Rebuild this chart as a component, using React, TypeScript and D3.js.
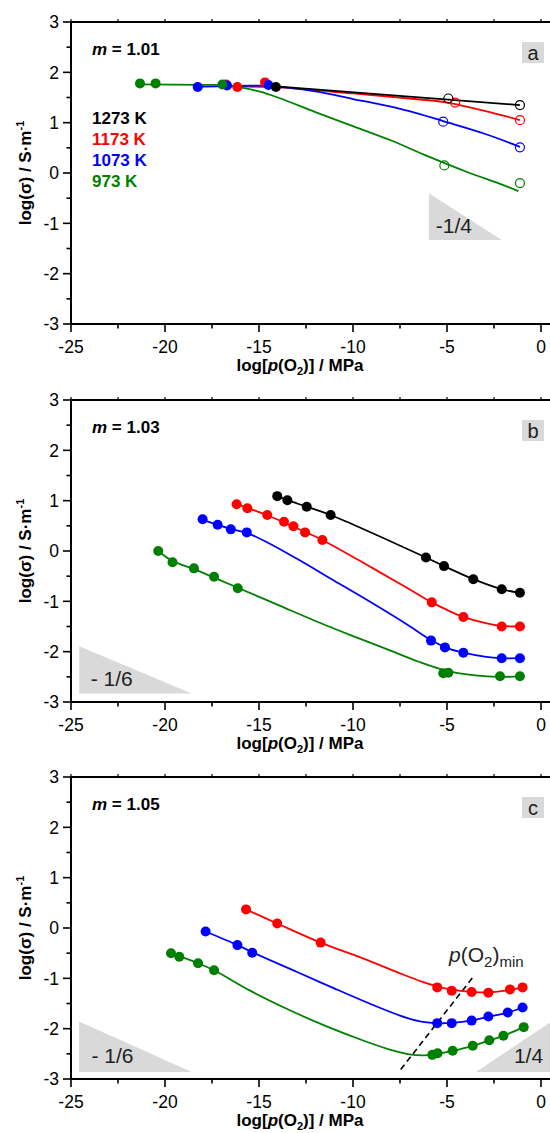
import React from "react";
import * as d3 from "d3";

type P = [number, number];

// ---------- Panel a (m = 1.01) ----------
const aBlackPts: P[] = [[-14.1, 1.71]];
const aBlackOpen: P[] = [[-4.93, 1.48], [-1.12, 1.35]];
const aBlackFit: P[] = [[-14.1, 1.72], [-1.12, 1.35]];
const aRedPts: P[] = [[-16.75, 1.76], [-16.15, 1.71], [-14.68, 1.8]];
const aRedOpen: P[] = [[-4.57, 1.4], [-1.12, 1.05]];
const aRedFit: P[] = [[-16.8, 1.72], [-14, 1.7], [-10, 1.58], [-7, 1.48], [-5, 1.4], [-3.5, 1.28], [-2, 1.14], [-1.12, 1.05]];
const aBluePts: P[] = [[-18.26, 1.71], [-16.7, 1.74], [-14.5, 1.75]];
const aBlueOpen: P[] = [[-5.2, 1.02], [-1.12, 0.51]];
const aBlueFit: P[] = [[-18.26, 1.71], [-16, 1.73], [-14.5, 1.73], [-12, 1.62], [-10, 1.47], [-8.5, 1.36], [-7, 1.23], [-5.2, 1.03], [-3, 0.78], [-1.12, 0.52]];
const aGreenPts: P[] = [[-21.33, 1.78], [-20.5, 1.78], [-16.95, 1.76]];
const aGreenOpen: P[] = [[-5.14, 0.15], [-1.12, -0.2]];
const aGreenFit: P[] = [[-21.33, 1.76], [-18, 1.75], [-17, 1.745], [-16, 1.7], [-15, 1.62], [-14, 1.5], [-12, 1.21], [-10, 0.93], [-8, 0.65], [-6, 0.33], [-4, 0.03], [-2, -0.24], [-1.2, -0.36]];
const aTriangle: P[] = [[-5.96, -0.4], [-5.96, -1.33], [-2.09, -1.33]];

// ---------- Panel b (m = 1.03) ----------
const bBlackPts: P[] = [[-14.03, 1.09], [-13.49, 1.01], [-12.46, 0.88], [-11.19, 0.715], [-6.12, -0.13], [-5.16, -0.3], [-3.6, -0.56], [-2.09, -0.76], [-1.12, -0.83]];
const bBlackFit: P[] = [[-14.03, 1.09], [-13.49, 1.01], [-12.46, 0.88], [-11.19, 0.715], [-6.12, -0.13], [-5.16, -0.3], [-3.6, -0.56], [-2.09, -0.76], [-1.12, -0.83]];
const bRedPts: P[] = [[-16.19, 0.93], [-15.62, 0.85], [-14.56, 0.715], [-13.67, 0.58], [-13.17, 0.49], [-12.55, 0.37], [-11.63, 0.22], [-5.81, -1.02], [-4.13, -1.31], [-2.09, -1.5], [-1.12, -1.5]];
const bRedFit: P[] = [[-16.19, 0.93], [-14.56, 0.71], [-12.55, 0.38], [-11.63, 0.22], [-9, -0.33], [-7, -0.76], [-5.81, -1.02], [-5, -1.17], [-4.13, -1.31], [-3, -1.43], [-2.09, -1.49], [-1.12, -1.5]];
const bBluePts: P[] = [[-18.0, 0.63], [-17.2, 0.52], [-16.5, 0.43], [-15.65, 0.37], [-5.85, -1.78], [-5.11, -1.915], [-4.13, -2.02], [-2.09, -2.13], [-1.12, -2.13]];
const bBlueFit: P[] = [[-18.0, 0.62], [-16.5, 0.44], [-15.65, 0.36], [-14.5, 0.16], [-13, -0.15], [-11, -0.59], [-9, -1.03], [-7, -1.49], [-5.85, -1.77], [-5, -1.93], [-4, -2.03], [-3, -2.1], [-2.09, -2.13], [-1.12, -2.13]];
const bGreenPts: P[] = [[-20.36, 0.0], [-19.6, -0.225], [-18.46, -0.345], [-17.39, -0.51], [-16.13, -0.74], [-5.2, -2.43], [-4.93, -2.42], [-2.18, -2.49], [-1.12, -2.49]];
const bGreenFit: P[] = [[-20.36, 0.0], [-19.6, -0.2], [-18.46, -0.36], [-17.39, -0.53], [-16.13, -0.73], [-14, -1.07], [-12, -1.39], [-10, -1.69], [-8, -1.98], [-6.5, -2.2], [-5, -2.38], [-3.5, -2.47], [-2.2, -2.5], [-1.12, -2.49]];
const bTriangle: P[] = [[-24.56, -1.89], [-24.56, -2.83], [-18.58, -2.83]];

// ---------- Panel c (m = 1.05) ----------
const cRedPts: P[] = [[-15.69, 0.37], [-14.03, 0.09], [-11.72, -0.29], [-5.52, -1.18], [-4.75, -1.245], [-3.69, -1.27], [-2.8, -1.285], [-1.65, -1.22], [-0.98, -1.18]];
const cRedFit: P[] = [[-15.69, 0.37], [-14.03, 0.09], [-11.72, -0.29], [-9.5, -0.6], [-7.5, -0.9], [-6.3, -1.07], [-5.52, -1.16], [-4.75, -1.225], [-3.69, -1.27], [-2.8, -1.28], [-1.65, -1.23], [-0.98, -1.18]];
const cBluePts: P[] = [[-17.84, -0.07], [-16.15, -0.34], [-15.36, -0.49], [-5.52, -1.89], [-4.75, -1.89], [-3.69, -1.84], [-2.8, -1.76], [-1.77, -1.68], [-0.98, -1.58]];
const cBlueFit: P[] = [[-17.84, -0.07], [-16.15, -0.34], [-15.36, -0.48], [-13, -0.87], [-11, -1.2], [-9, -1.52], [-7.5, -1.74], [-6.5, -1.85], [-5.52, -1.89], [-4.75, -1.885], [-3.69, -1.84], [-2.8, -1.765], [-1.77, -1.68], [-0.98, -1.58]];
const cGreenPts: P[] = [[-19.68, -0.5], [-19.24, -0.57], [-18.24, -0.7], [-17.39, -0.84], [-5.78, -2.52], [-5.5, -2.49], [-4.7, -2.44], [-3.63, -2.34], [-2.75, -2.23], [-2.0, -2.14], [-0.92, -1.97]];
const cGreenFit: P[] = [[-19.68, -0.5], [-18.24, -0.7], [-17.39, -0.84], [-15.5, -1.24], [-13.5, -1.61], [-11.5, -1.94], [-9.5, -2.23], [-8, -2.42], [-7, -2.51], [-6.3, -2.53], [-5.6, -2.51], [-4.7, -2.44], [-3.63, -2.34], [-2.75, -2.235], [-2.0, -2.14], [-0.92, -1.97]];
const cTriangleLeft: P[] = [[-24.57, -1.86], [-24.57, -2.86], [-18.58, -2.86]];
const cTriangleRight: P[] = [[-3.46, -2.86], [0.54, -1.86], [0.54, -2.86]];
const cMinLine: P[] = [[-7.46, -2.81], [-3.56, -0.95]];

// ---------- Axes ----------
const xMajorTicks = [-25, -20, -15, -10, -5, 0];
const xMinorTicks = [-22.5, -17.5, -12.5, -7.5, -2.5];
const yMajorTicks = [-3, -2, -1, 0, 1, 2, 3];
const yMinorTicks = [-2.5, -1.5, -0.5, 0.5, 1.5, 2.5];
const legendLabels = ["1273 K", "1173 K", "1073 K", "973 K"];

const COLORS = { black: "#000000", red: "#ff0000", blue: "#0000ff", green: "#008000" };
const FONT = "'Liberation Sans', Arial, Helvetica, sans-serif";
const GREY = "#d9d9d9";

const PLOT_LEFT = 71;
const PX_PER_UNIT = 18.8;
const PLOT_H = 302;

type Series = { color: string; fit: P[]; pts: P[]; open?: P[] };
type Tri = { pts: P[]; label: string; at: P; anchor?: string };

interface PanelProps {
  top: number;
  mLabel: string;
  letter: string;
  series: Series[];
  triangles: Tri[];
  legend?: boolean;
  extra?: (x: d3.ScaleLinear<number, number>, y: d3.ScaleLinear<number, number>) => React.ReactNode;
}

function Panel({ top, mLabel, letter, series, triangles, legend, extra }: PanelProps) {
  const x = d3.scaleLinear().domain([-25, 1]).range([PLOT_LEFT, PLOT_LEFT + 26 * PX_PER_UNIT]);
  const y = d3.scaleLinear().domain([-3, 3]).range([top + PLOT_H, top]);
  const bottom = top + PLOT_H;
  const right = x(1);
  const line = d3.line<P>().x((d) => x(d[0])).y((d) => y(d[1])).curve(d3.curveCatmullRom.alpha(0.5));
  const poly = (pts: P[]) => pts.map((p) => `${x(p[0])},${y(p[1])}`).join(" ");
  const cy = top + PLOT_H / 2;

  return (
    <g>
      {triangles.map((t, i) => (
        <g key={i}>
          <polygon points={poly(t.pts)} fill={GREY} />
          <text x={x(t.at[0])} y={y(t.at[1])} fontFamily={FONT} fontSize={21} fill="#222" textAnchor={t.anchor || "start"}>
            {t.label}
          </text>
        </g>
      ))}
      {extra && extra(x, y)}
      {series.map((s, i) => (
        <path key={i} d={line(s.fit) || ""} fill="none" stroke={s.color} strokeWidth={1.8} />
      ))}
      {series.map((s, i) => (
        <g key={i}>
          {s.pts.map((p, j) => (
            <circle key={j} cx={x(p[0])} cy={y(p[1])} r={5} fill={s.color} />
          ))}
          {(s.open || []).map((p, j) => (
            <circle key={"o" + j} cx={x(p[0])} cy={y(p[1])} r={4.5} fill="none" stroke={s.color} strokeWidth={1.2} />
          ))}
        </g>
      ))}
      <line x1={PLOT_LEFT} x2={PLOT_LEFT} y1={top - 1} y2={bottom + 1} stroke="#000" strokeWidth={2} />
      <line x1={PLOT_LEFT - 1} x2={right} y1={bottom} y2={bottom} stroke="#000" strokeWidth={2} />
      <line x1={PLOT_LEFT - 1} x2={right} y1={top} y2={top} stroke="#000" strokeWidth={2} />
      {xMajorTicks.map((t) => (
        <g key={"xM" + t}>
          <line x1={x(t)} x2={x(t)} y1={bottom} y2={bottom + 8} stroke="#000" strokeWidth={1.6} />
          <line x1={x(t)} x2={x(t)} y1={top} y2={top - 3} stroke="#000" strokeWidth={1.2} />
          <text x={x(t)} y={bottom + 29} textAnchor="middle" fontFamily={FONT} fontSize={17.5}>
            {t}
          </text>
        </g>
      ))}
      {xMinorTicks.map((t) => (
        <g key={"xm" + t}>
          <line x1={x(t)} x2={x(t)} y1={bottom} y2={bottom + 4.5} stroke="#000" strokeWidth={1.6} />
          <line x1={x(t)} x2={x(t)} y1={top} y2={top - 3} stroke="#000" strokeWidth={1.2} />
        </g>
      ))}
      {yMajorTicks.map((t) => (
        <g key={"yM" + t}>
          <line x1={PLOT_LEFT} x2={PLOT_LEFT - 8} y1={y(t)} y2={y(t)} stroke="#000" strokeWidth={1.6} />
          <text x={59} y={y(t)} dy="0.36em" textAnchor="end" fontFamily={FONT} fontSize={17.5}>
            {t}
          </text>
        </g>
      ))}
      {yMinorTicks.map((t) => (
        <line key={"ym" + t} x1={PLOT_LEFT} x2={PLOT_LEFT - 4.5} y1={y(t)} y2={y(t)} stroke="#000" strokeWidth={1.6} />
      ))}
      <text x={300} y={bottom + 47} textAnchor="middle" fontFamily={FONT} fontSize={17} fontWeight="bold">
        log[<tspan fontStyle="italic">p</tspan>(O<tspan fontSize={11} dy={4}>2</tspan>
        <tspan dy={-4}>)] / MPa</tspan>
      </text>
      <text transform={`translate(31,${cy}) rotate(-90)`} textAnchor="middle" fontFamily={FONT} fontSize={17} fontWeight="bold">
        log(σ) / S·m<tspan fontSize={11} dy={-7}>-1</tspan>
      </text>
      <text x={92} y={top + 33} fontFamily={FONT} fontSize={17} fontWeight="bold">
        <tspan fontStyle="italic">m</tspan> = {mLabel}
      </text>
      <rect x={522} y={top + 20} width={22} height={21} fill={GREY} />
      <text x={533} y={top + 38} textAnchor="middle" fontFamily={FONT} fontSize={20} fill="#222">
        {letter}
      </text>
      {legend &&
        legendLabels.map((l, i) => (
          <text key={l} x={92} y={top + 101.5 + i * 21.3} fontFamily={FONT} fontSize={17} fontWeight="bold"
            fill={[COLORS.black, COLORS.red, COLORS.blue, COLORS.green][i]}>
            {l}
          </text>
        ))}
    </g>
  );
}

export default function App() {
  const panelA: Series[] = [
    { color: COLORS.red, fit: aRedFit, pts: aRedPts, open: aRedOpen },
    { color: COLORS.blue, fit: aBlueFit, pts: aBluePts, open: aBlueOpen },
    { color: COLORS.green, fit: aGreenFit, pts: aGreenPts, open: aGreenOpen },
    { color: COLORS.black, fit: aBlackFit, pts: aBlackPts, open: aBlackOpen },
  ];
  const panelB: Series[] = [
    { color: COLORS.black, fit: bBlackFit, pts: bBlackPts },
    { color: COLORS.red, fit: bRedFit, pts: bRedPts },
    { color: COLORS.blue, fit: bBlueFit, pts: bBluePts },
    { color: COLORS.green, fit: bGreenFit, pts: bGreenPts },
  ];
  const panelC: Series[] = [
    { color: COLORS.red, fit: cRedFit, pts: cRedPts },
    { color: COLORS.blue, fit: cBlueFit, pts: cBluePts },
    { color: COLORS.green, fit: cGreenFit, pts: cGreenPts },
  ];
  return (
    <svg width={550} height={1133} style={{ position: "absolute", left: 0, top: 0, background: "#fff" }}>
      <rect width={550} height={1133} fill="#fff" />
      <Panel top={22} mLabel="1.01" letter="a" series={panelA} legend
        triangles={[{ pts: aTriangle, label: "-1/4", at: [-5.6, -1.19] }]} />
      <Panel top={400} mLabel="1.03" letter="b" series={panelB}
        triangles={[{ pts: bTriangle, label: "- 1/6", at: [-23.95, -2.68] }]} />
      <Panel top={777} mLabel="1.05" letter="c" series={panelC}
        triangles={[
          { pts: cTriangleLeft, label: "- 1/6", at: [-23.91, -2.69] },
          { pts: cTriangleRight, label: "1/4", at: [-1.44, -2.69] },
        ]}
        extra={(x, y) => (
          <g>
            <line x1={x(cMinLine[0][0])} y1={y(cMinLine[0][1])} x2={x(cMinLine[1][0])} y2={y(cMinLine[1][1])}
              stroke="#000" strokeWidth={1.6} strokeDasharray="6,4" />
            <text x={x(-4.89)} y={y(-0.68)} fontFamily={FONT} fontSize={21} fill="#222">
              <tspan fontStyle="italic">p</tspan>(O<tspan fontSize={15} dy={5}>2</tspan>
              <tspan dy={-5}>)</tspan>
              <tspan fontSize={15} dy={5}>min</tspan>
            </text>
          </g>
        )}
      />
    </svg>
  );
}
